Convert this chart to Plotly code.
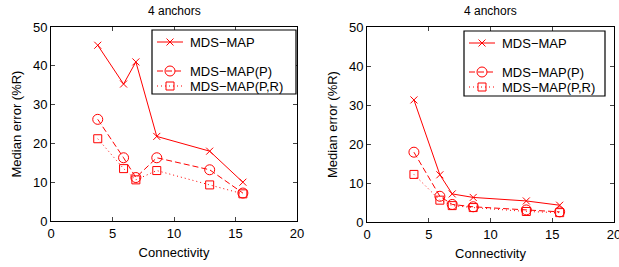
import plotly.graph_objects as go

W, H = 619, 267
RED = "#ff0000"

# ---- data ----
conn = [3.8, 5.9, 6.9, 8.6, 12.9, 15.6]
left_mds = [45.3, 35.3, 41.0, 21.8, 18.0, 10.0]
left_p = [26.2, 16.3, 11.2, 16.3, 13.2, 7.2]
left_pr = [21.2, 13.5, 10.6, 13.0, 9.3, 7.0]
right_mds = [31.3, 12.1, 7.2, 6.3, 5.4, 4.3]
right_p = [17.9, 6.6, 4.5, 3.9, 3.1, 2.6]
right_pr = [12.2, 5.6, 4.2, 3.7, 2.7, 2.4]
series_names = ["MDS\u2212MAP", "MDS\u2212MAP(P)", "MDS\u2212MAP(P,R)"]
title_text = "4 anchors"
xlabel = "Connectivity"
ylabel = "Median error (%R)"

styles = [
    dict(dash="solid", symbol="x-thin-open", size=7),
    dict(dash="6px,3px", symbol="circle-open", size=10),
    dict(dash="1px,3px", symbol="square-open", size=8),
]

fig = go.Figure()

# panel pixel boxes: (left, right, top, bottom)
panels = [(51, 297, 27, 221), (367, 614, 27, 222)]
data_sets = [(left_mds, left_p, left_pr), (right_mds, right_p, right_pr)]

for i, ((l, r, t, b), ds) in enumerate(zip(panels, data_sets)):
    xa = "x" if i == 0 else "x2"
    ya = "y" if i == 0 else "y2"
    for vals, st, nm in zip(ds, styles, series_names):
        fig.add_trace(go.Scatter(
            x=conn, y=vals, xaxis=xa, yaxis=ya, mode="lines+markers", name=nm,
            showlegend=False,
            line=dict(color=RED, width=1, dash=st["dash"]),
            marker=dict(symbol=st["symbol"], size=st["size"], color=RED,
                        line=dict(color=RED, width=1)),
        ))
    axk = "" if i == 0 else "2"
    fig.layout["xaxis" + axk] = dict(
        domain=[l / W, r / W], range=[0, 20], tickvals=[0, 5, 10, 15, 20],
        ticks="inside", ticklen=4, mirror="ticks", showline=True, linecolor="black",
        linewidth=1, showgrid=False, zeroline=False, anchor="y" + axk, automargin=False,
        ticklabeloverflow="allow",
        tickfont=dict(size=13, color="black"),
        title=dict(text=xlabel, font=dict(size=13, color="black"), standoff=8),
    )
    fig.layout["yaxis" + axk] = dict(
        domain=[(H - b) / H, (H - t) / H], range=[0, 50], tickvals=[0, 10, 20, 30, 40, 50],
        ticks="inside", ticklen=4, mirror="ticks", showline=True, linecolor="black",
        linewidth=1, showgrid=False, zeroline=False, anchor="x" + axk, automargin=False,
        ticklabeloverflow="allow",
        tickfont=dict(size=13, color="black"),
        title=dict(text=ylabel, font=dict(size=13, color="black"), standoff=8),
    )
    fig.add_annotation(x=(l + r) / 2 / W, y=(H - 11) / H, xref="paper", yref="paper",
                       text=title_text, showarrow=False,
                       font=dict(size=12, color="black"), xanchor="center", yanchor="middle")

# overlay axis in pixel coordinates for legends
fig.layout.xaxis3 = dict(domain=[0, 1], range=[0, W], visible=False, fixedrange=True,
                         anchor="y3", automargin=False)
fig.layout.yaxis3 = dict(domain=[0, 1], range=[H, 0], visible=False, fixedrange=True,
                         anchor="x3", automargin=False)

legends = [(152, 296, 30, 94), (464, 605, 31, 96)]
for (l, r, t, b) in legends:
    fig.add_shape(type="rect", xref="x3", yref="y3", x0=l, x1=r, y0=t, y1=b,
                  line=dict(color="black", width=1.2), fillcolor="white", layer="below")
    rows = [t + 12, t + 41, t + 56]
    for yy, st, nm in zip(rows, styles, series_names):
        fig.add_trace(go.Scatter(
            x=[l + 5, l + 18, l + 31], y=[yy, yy, yy], xaxis="x3", yaxis="y3",
            mode="lines", showlegend=False, hoverinfo="skip",
            line=dict(color=RED, width=1, dash=st["dash"]),
        ))
        fig.add_trace(go.Scatter(
            x=[l + 18], y=[yy], xaxis="x3", yaxis="y3", mode="markers",
            showlegend=False, hoverinfo="skip",
            marker=dict(symbol=st["symbol"], size=st["size"], color=RED,
                        line=dict(color=RED, width=1)),
        ))
        fig.add_annotation(x=l + 36, y=yy, xref="x3", yref="y3", text=nm, showarrow=False,
                           xanchor="left", yanchor="middle",
                           font=dict(size=13, color="black"))

fig.update_layout(
    width=W, height=H, margin=dict(l=0, r=0, t=0, b=0),
    paper_bgcolor="white", plot_bgcolor="rgba(0,0,0,0)",
    font=dict(family="Liberation Sans, Arial, sans-serif", size=13, color="black"),
    showlegend=False,
)

fig.write_html("out.html", config={"displayModeBar": False},
               post_script="document.body.style.margin='0';document.body.style.padding='0';")
